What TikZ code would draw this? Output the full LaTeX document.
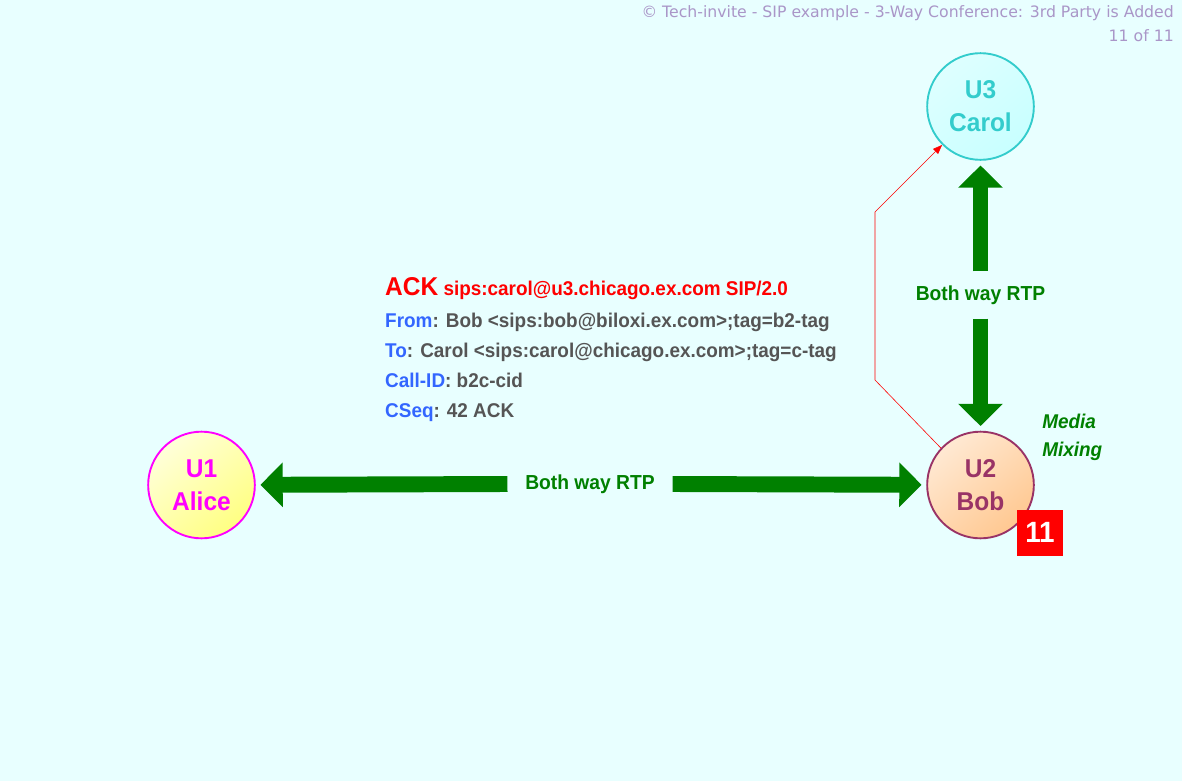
\documentclass[tikz,border=0pt]{standalone}
\usepackage{fontspec}
\setmainfont{Liberation Sans}[FakeStretch=0.95]
\newfontfamily\hdrfont{DejaVu Sans}
\usetikzlibrary{arrows.meta, positioning}
\definecolor{bgcyan}{RGB}{232,255,255}
\definecolor{rtpgreen}{RGB}{0,128,0}
\definecolor{hdrlilac}{RGB}{170,150,200}
\definecolor{alicepink}{RGB}{255,0,255}
\definecolor{aliceyellow}{RGB}{255,255,130}
\definecolor{bobmaroon}{RGB}{153,51,102}
\definecolor{bobpeach}{RGB}{255,200,145}
\definecolor{carolteal}{RGB}{51,204,204}
\definecolor{carolfill}{RGB}{200,255,255}
\definecolor{fieldblue}{RGB}{51,102,255}
\definecolor{valgray}{RGB}{85,85,85}

\begin{document}
\begin{tikzpicture}[x=0.03cm, y=-0.03cm,
  user/.style={circle, minimum size=3.2cm, line width=1.6pt, inner sep=0pt,
    align=center, font=\fontsize{22}{28}\selectfont\bfseries},
  rtp/.style={draw=rtpgreen, line width=13.6pt, shorten >=4pt,
    -{Triangle[width=37pt, length=19pt]}},
  rtplabel/.style={text=rtpgreen, inner sep=0pt, font=\fontsize{17.3}{20}\selectfont\bfseries},
  field/.style={anchor=base west, inner sep=0pt, text=valgray,
    font=\fontsize{17}{20}\selectfont\bfseries},
  hdr/.style={anchor=base east, inner sep=0pt, text=hdrlilac,
    font=\hdrfont\fontsize{13.4}{16}\selectfont}]
  \useasboundingbox (0,0) rectangle (1182,781);
  \fill[bgcyan] (0,0) rectangle (1182,781);

  % header
  \node[hdr] (title) at (1174,17.5) {\textcopyright\ Tech-invite - SIP example - 3-Way Conference: 3rd Party is Added};
  \node[hdr] (page) at (1174,41) {11 of 11};

  % users
  \node[user, draw=alicepink, text=alicepink, top color=white!70!aliceyellow,
    bottom color=aliceyellow, shading angle=40] (alice) at (201.5,485) {U1\\Alice};
  \node[user, draw=bobmaroon, text=bobmaroon, top color=white!60!bobpeach,
    bottom color=bobpeach, shading angle=40] (bob) at (980.5,485) {U2\\Bob};
  \node[user, draw=carolteal, text=carolteal, top color=white!40!carolfill,
    bottom color=carolfill, shading angle=40] (carol) at (980.5,106.5) {U3\\Carol};

  % media
  \node[rtplabel, inner xsep=15pt] (rtph) at (590,484) {Both way RTP};
  \draw[rtp] (rtph.west) -- (alice);
  \draw[rtp] (rtph.east) -- (bob);
  \node[rtplabel, inner ysep=12pt] (rtpv) at (980.5,295) {Both way RTP};
  \draw[rtp] (rtpv.north) -- (carol);
  \draw[rtp] (rtpv.south) -- (bob);
  \node[rtplabel, anchor=west, align=left, font=\fontsize{17}{24}\selectfont\bfseries\itshape]
    (mixing) at (1042,437) {Media\\Mixing};

  % signalling
  \coordinate (k1) at (875,380);
  \coordinate (k2) at (875,212);
  \draw[red, line width=0.5pt, -{Triangle[width=6pt, length=8pt]}]
    (bob.137) -- (k1) -- (k2) -- (carol.225);
  \node[fill=red, text=white, minimum size=1.38cm, inner sep=0pt,
    font=\fontsize{25}{30}\selectfont\bfseries] (step) at (1040,532.5) {11};

  % ACK request
  \node[field, text=red] (ack) at (385,295)
    {{\fontsize{22}{24}\selectfont ACK} sips:carol@u3.chicago.ex.com SIP/2.0};
  \node[field] (from) at (385,327) {\textcolor{fieldblue}{From}: Bob <sips:bob@biloxi.ex.com>;tag=b2-tag};
  \node[field] (to) at (385,357) {\textcolor{fieldblue}{To}: Carol <sips:carol@chicago.ex.com>;tag=c-tag};
  \node[field] (callid) at (385,387) {\textcolor{fieldblue}{Call-ID}: b2c-cid};
  \node[field] (cseq) at (385,417) {\textcolor{fieldblue}{CSeq}: 42 ACK};
\end{tikzpicture}
\end{document}
